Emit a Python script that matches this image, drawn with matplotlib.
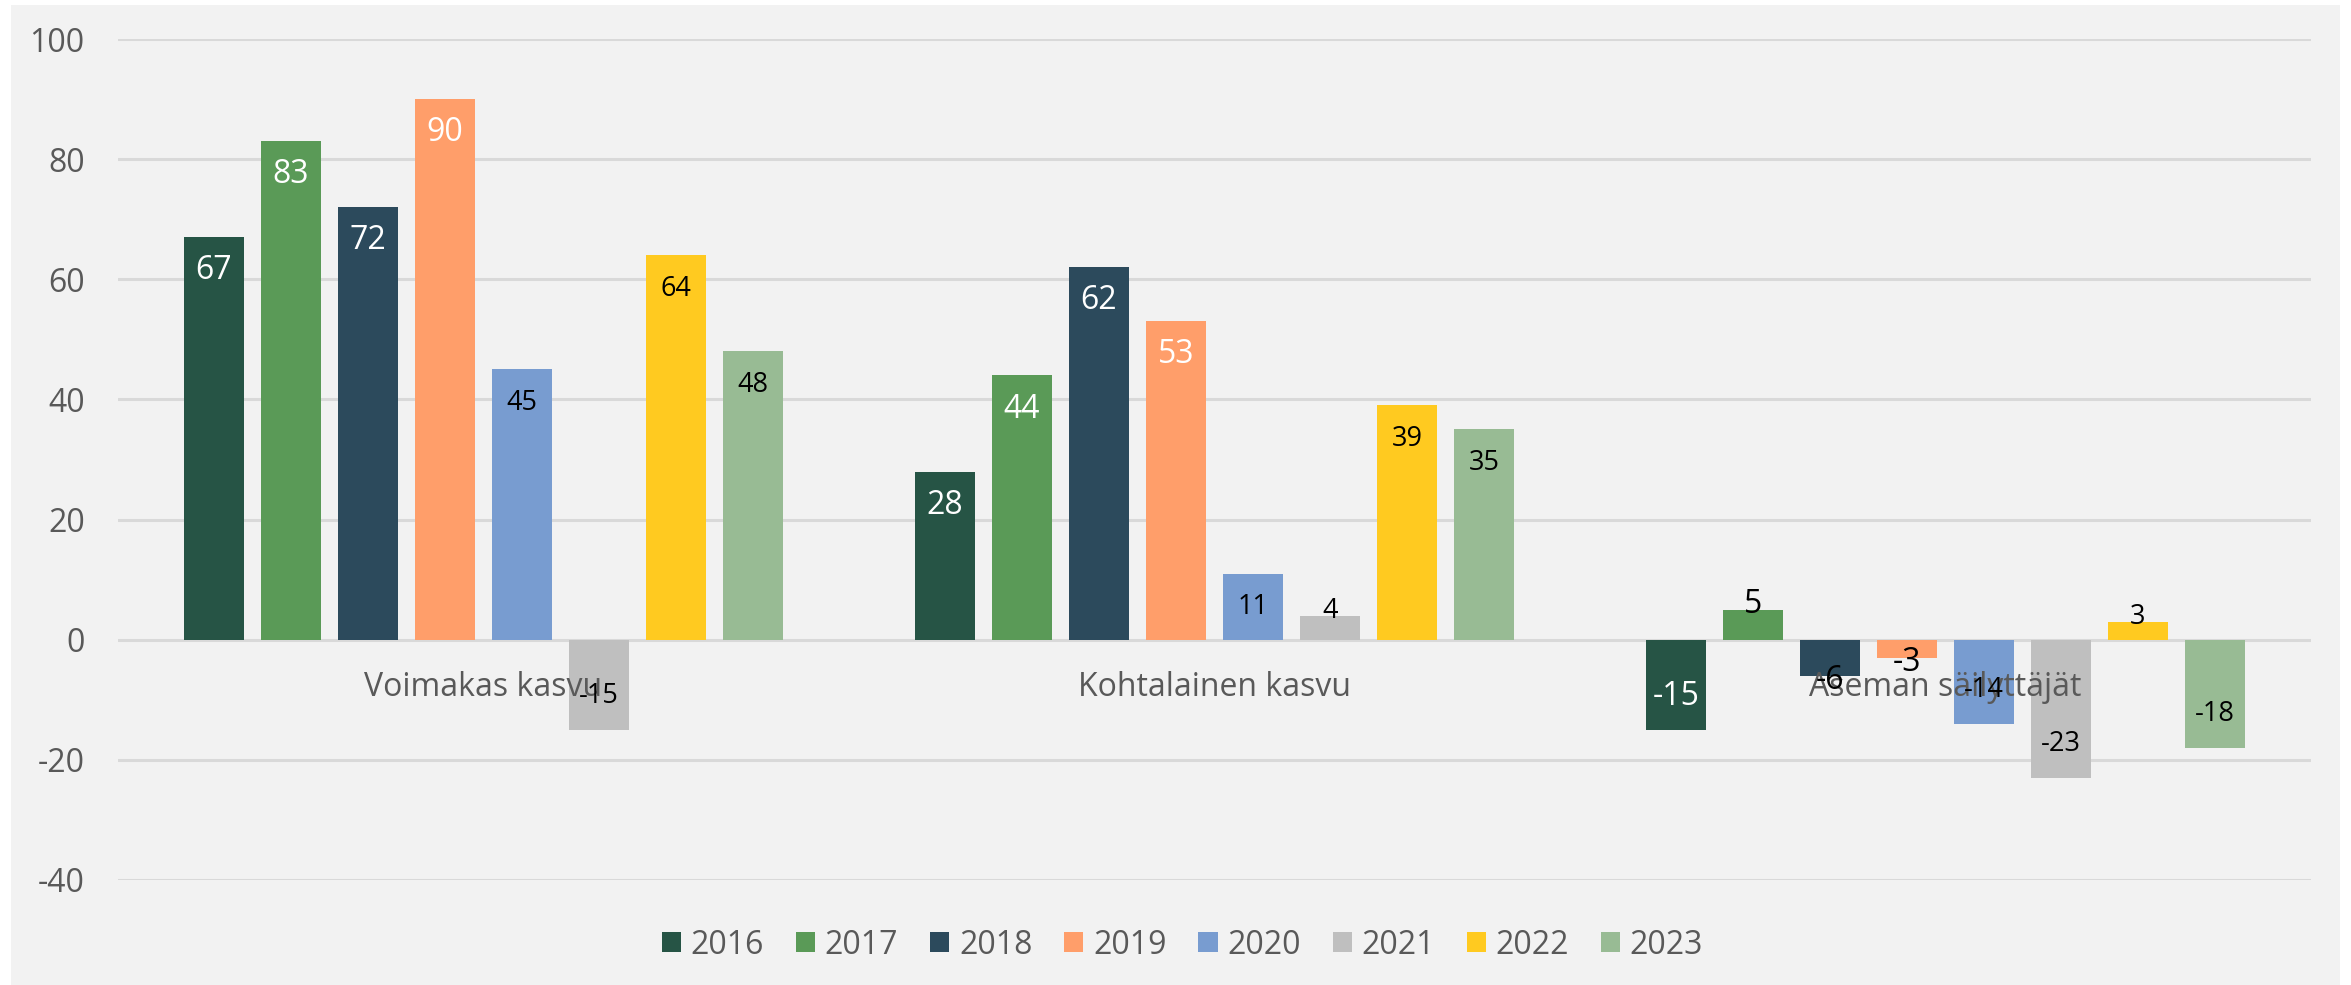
import matplotlib
matplotlib.use("Agg")
import matplotlib.pyplot as plt
import numpy as np
from matplotlib.patches import Rectangle, Patch
from matplotlib import transforms

categories = ["Voimakas kasvu", "Kohtalainen kasvu", "Aseman säilyttäjät"]
years = ["2016", "2017", "2018", "2019", "2020", "2021", "2022", "2023"]
v2016 = [67, 28, -15]
v2017 = [83, 44, 5]
v2018 = [72, 62, -6]
v2019 = [90, 53, -3]
v2020 = [45, 11, -14]
v2021 = [-15, 4, -23]
v2022 = [64, 39, 3]
v2023 = [48, 35, -18]
series = [v2016, v2017, v2018, v2019, v2020, v2021, v2022, v2023]
colors = ["#265445", "#5A9A57", "#2C4A5C", "#FF9E6A", "#789CD0", "#BFBFBF", "#FFCA20", "#98BB94"]
yticks = [-40, -20, 0, 20, 40, 60, 80, 100]

plt.rcParams['font.family'] = ['Open Sans', 'DejaVu Sans']

W, H = 2351, 985
fig = plt.figure(figsize=(W / 100, H / 100), dpi=100)
fig.patch.set_facecolor("white")
bg = Rectangle((11 / W, 0), (2340 - 11) / W, (H - 5) / H,
               transform=fig.transFigure, facecolor="#F2F2F2",
               edgecolor="none", zorder=-10)
fig.add_artist(bg)

ax = fig.add_axes([118 / W, (H - 880) / H, (2311 - 118) / W, (880 - 39) / H])
ax.set_zorder(1)
ax.set_facecolor("none")
ax.set_xlim(-0.5, 2.5)
ax.set_ylim(-40, 100)
ax.set_yticks(yticks)
ax.set_yticklabels([str(t) for t in yticks])
ax.yaxis.grid(True, color="#D9D9D9", linewidth=2.2)
ax.set_axisbelow(True)
ax.set_xticks([])
for s in ax.spines.values():
    s.set_visible(False)
ax.tick_params(axis="y", length=0, pad=24, labelsize=23, labelcolor="#595959")

x = np.arange(len(categories))
pitch = 77 / 731
width = 60 / 731
for i, (vals, col) in enumerate(zip(series, colors)):
    xs = x + (i - 3.5) * pitch
    ax.bar(xs, vals, width=width, color=col, zorder=2)
    for xi, v in zip(xs, vals):
        sgn = 1 if v >= 0 else -1
        if abs(v) >= 8:
            y = v - sgn * 5.6
        else:
            y = v + sgn * 0.8
        big = i < 4
        tc = "white" if (big and abs(v) >= 8) else "black"
        ax.text(xi, y, str(v), ha="center", va="center", color=tc,
                fontsize=23 if big else 19.5, zorder=4)

off = transforms.offset_copy(ax.transData, fig=fig, x=0, y=-48 * 0.72, units="points")
for xi, c in zip(x, categories):
    ax.text(xi, 0, c, ha="center", va="center", color="#595959", fontsize=23,
            transform=off, zorder=3)

handles = [Patch(facecolor=c, edgecolor="none") for c in colors]
fig.legend(handles, years, loc="center", bbox_to_anchor=(0.503, 1 - 945 / H), ncol=8,
           frameon=False, fontsize=23, labelcolor="#595959",
           handlelength=0.6, handleheight=0.6, handletextpad=0.3, columnspacing=1.0)

fig.savefig("out.png", dpi=100, facecolor=fig.get_facecolor())
